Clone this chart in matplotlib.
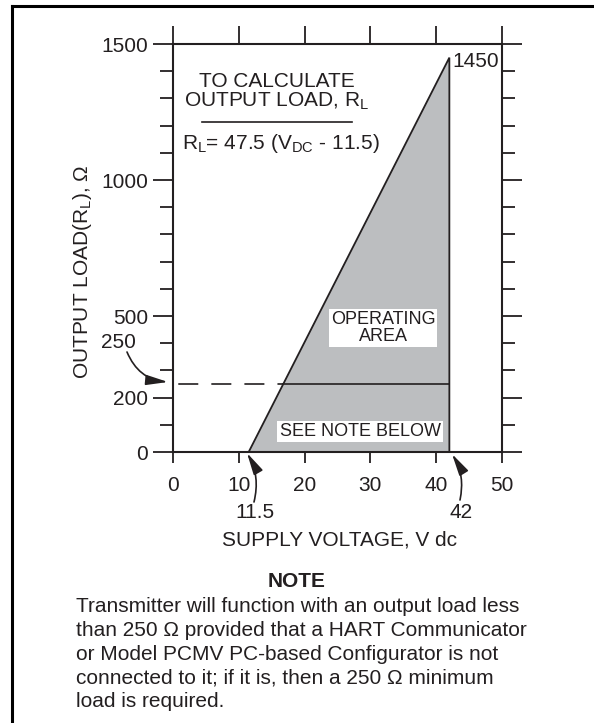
"""
Output load vs supply voltage operating area for a loop-powered transmitter
"""
import numpy as np
import matplotlib.pyplot as plt
from matplotlib.lines import Line2D

plt.rcParams['font.family'] = ['Liberation Sans', 'DejaVu Sans']
plt.rcParams['mathtext.fontset'] = 'custom'
plt.rcParams['mathtext.rm'] = 'Liberation Sans'
plt.rcParams['mathtext.it'] = 'Liberation Sans:italic'
plt.rcParams['mathtext.bf'] = 'Liberation Sans:bold'
plt.rcParams['lines.scale_dashes'] = False

# chart data
v_min = 11.5          # V dc at zero load
v_max = 42.0          # V dc maximum supply
load_max = 1450       # ohm at v_max
load_slope = 47.5     # ohm per volt, R_L = 47.5 (V_DC - 11.5)
hart_load = 250       # ohm, minimum load with HART communicator
x_ticks = [0, 10, 20, 30, 40, 50]
y_ticks = [0, 200, 500, 1000, 1500]
y_minor = [0, 100, 200, 300, 400, 500, 600, 700, 800, 900, 1000,
           1100, 1200, 1300, 1400, 1500]
note_lines = ["Transmitter will function with an output load less",
              "than 250 \u03a9 provided that a HART Communicator",
              "or Model PCMV PC-based Configurator is not",
              "connected to it; if it is, then a 250 \u03a9 minimum",
              "load is required."]

ink = '#231f20'
gray = '#bcbec0'
W, H = 594, 723
fs = 15


def fxy(px, py):
    # reference pixel -> figure fraction
    return px / W, 1 - py / H


fig = plt.figure(figsize=(W / 100, H / 100), dpi=100)
ax = fig.add_axes([173 / W, 1 - 452 / H, 329 / W, 408 / H])

# operating area
v_hart = v_min + hart_load / load_slope
ax.fill([v_min, v_max, v_max], [0, load_max, 0], color=gray, lw=0)
ax.plot([v_min, v_max, v_max], [0, load_max, 0], color=ink, lw=1.3,
        solid_joinstyle='miter')
ax.plot([v_hart, v_max], [hart_load, hart_load], color=ink, lw=1.2)
ax.plot([0, v_hart], [hart_load, hart_load], color=ink, lw=1.2,
        linestyle=(20, (14.4, 9.4)))

ax.set_xlim(0, 50)
ax.set_ylim(0, 1500)
ax.set_xticks(x_ticks)
ax.set_yticks(y_ticks)
ax.set_yticks(y_minor, minor=True)
for s in ax.spines.values():
    s.set_linewidth(1.5)
    s.set_color(ink)

ax.tick_params(axis='both', colors=ink, labelcolor=ink, width=1.3, labelsize=fs,
               direction='out')
ax.tick_params(axis='x', which='major', top=True, labeltop=False, length=8, pad=9.5)
ax.tick_params(axis='y', which='major', right=True, labelright=False,
               length=14.4, pad=3.6)
ax.tick_params(axis='y', which='minor', left=True, right=True, length=9.4,
               width=1.3, colors=ink)

for t in ax.xaxis.get_major_ticks():
    t.tick2line.set_markersize(13)
for t in ax.yaxis.get_major_ticks():
    if t.get_loc() == 200:
        t.tick1line.set_markersize(9.4)
        t.tick2line.set_markersize(9.4)

# formula block
fig.text(*fxy(277, 107), "TO CALCULATE\nOUTPUT LOAD, R$_\\mathrm{L}$",
         ha='center', va='baseline', multialignment='center',
         fontsize=fs, color=ink, linespacing=1.0)
fig.add_artist(Line2D([202 / W, 352 / W], [1 - 121.7 / H, 1 - 121.7 / H],
                      color=ink, lw=1.2))
fig.text(*fxy(281, 149), r"R$_\mathrm{L}$= 47.5 (V$_\mathrm{DC}$ - 11.5)",
         ha='center', va='baseline', fontsize=fs, color=ink)

fig.text(*fxy(452, 67), "%d" % load_max, ha='left', va='baseline',
         fontsize=fs, color=ink)

box = dict(boxstyle='square,pad=0.12', facecolor='white', edgecolor='none')
fig.text(*fxy(383, 328), "OPERATING\nAREA", ha='center', va='center',
         fontsize=13, color=ink, linespacing=1.05, bbox=box)
fig.text(*fxy(360, 436), "SEE NOTE BELOW", ha='center', va='baseline',
         fontsize=13, color=ink, bbox=box)

# callouts
arrow = dict(arrowstyle='-|>,head_length=0.95,head_width=0.22', color=ink,
             lw=1.2, shrinkA=0, shrinkB=0, mutation_scale=14)
fig.text(*fxy(118, 348), "%d" % hart_load, ha='center', va='baseline',
         fontsize=fs, color=ink)
ax.annotate('', xy=fxy(168, 382), xytext=fxy(127, 352),
            xycoords='figure fraction', textcoords='figure fraction',
            arrowprops=dict(arrow, connectionstyle='arc3,rad=0.3'),
            annotation_clip=False)
fig.text(*fxy(255, 518), "%.1f" % v_min, ha='center', va='baseline',
         fontsize=fs, color=ink)
ax.annotate('', xy=fxy(247, 453), xytext=fxy(254, 502),
            xycoords='figure fraction', textcoords='figure fraction',
            arrowprops=dict(arrow, connectionstyle='arc3,rad=0.2'),
            annotation_clip=False)
fig.text(*fxy(461, 518), "%d" % v_max, ha='center', va='baseline',
         fontsize=fs, color=ink)
ax.annotate('', xy=fxy(452, 454), xytext=fxy(460, 500),
            xycoords='figure fraction', textcoords='figure fraction',
            arrowprops=dict(arrow, connectionstyle='arc3,rad=0.2'),
            annotation_clip=False)

# axis titles
fig.text(*fxy(340, 546), "SUPPLY VOLTAGE, V dc", ha='center', va='baseline',
         fontsize=fs, color=ink)
fig.text(*fxy(82, 272), "OUTPUT LOAD(R$_\\mathrm{L}$), \u03a9", rotation=90,
         ha='center', va='center', fontsize=fs, color=ink)

# note
fig.text(*fxy(297, 587), "NOTE", ha='center', va='baseline', fontsize=fs,
         fontweight='bold', color=ink)
for i, line in enumerate(note_lines):
    fig.text(*fxy(76, 612 + 23.8 * i), line, ha='left', va='baseline',
             fontsize=fs, color=ink)

# page frame
fig.add_artist(Line2D([12 / W, 12 / W], [0, 1 - 6 / H], color='black', lw=2.2))
fig.add_artist(Line2D([12 / W, 1], [1 - 6 / H, 1 - 6 / H], color='black', lw=2.2))

fig.savefig("out.png", dpi=100)
